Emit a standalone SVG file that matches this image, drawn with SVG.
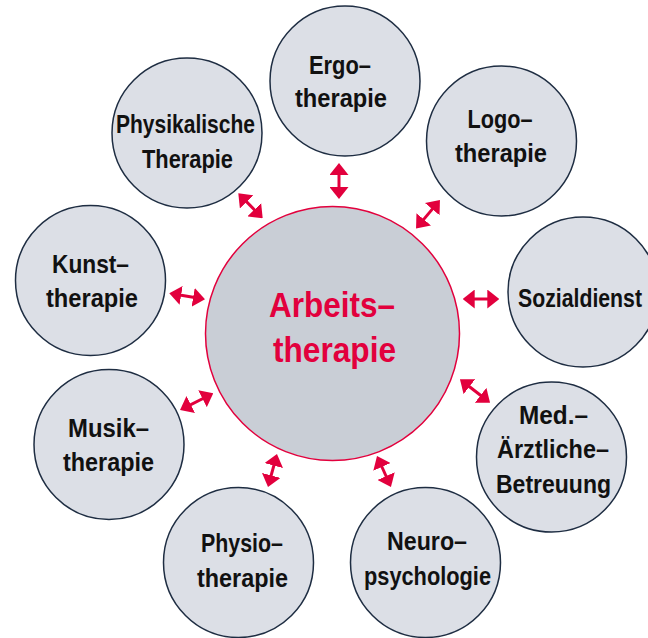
<svg xmlns="http://www.w3.org/2000/svg" width="648" height="638" viewBox="0 0 648 638">
<style>
.node{fill:#DCDFE6;stroke:#1E2D42;stroke-width:1.5}
.hub{fill:#C9CED6;stroke:#E2003D;stroke-width:1.5}
.t{font-family:"Liberation Sans",Arial,sans-serif;font-weight:bold;font-size:25px;fill:#111111;text-anchor:middle}
.ht{font-family:"Liberation Sans",Arial,sans-serif;font-weight:bold;font-size:35px;fill:#E2003D;text-anchor:middle}
.arr{stroke:#E2003D;stroke-width:3;fill:none;marker-start:url(#ah);marker-end:url(#ah)}
</style>
<defs>
<marker id="ah" viewBox="0 0 12 19" markerWidth="12" markerHeight="19" refX="6" refY="9.5" markerUnits="userSpaceOnUse" orient="auto-start-reverse">
<path d="M0,0 L12,9.5 L0,19 z" fill="#E2003D"/>
</marker>
</defs>
<rect width="648" height="638" fill="#FFFFFF"/>
<g id="connectors">
<line class="arr" x1="339" y1="169" x2="339" y2="193"/>
<line class="arr" x1="436.1" y1="204.6" x2="419.9" y2="223.9"/>
<line class="arr" x1="242.5" y1="197.6" x2="258.5" y2="214.0"/>
<line class="arr" x1="175.2" y1="294.3" x2="199.1" y2="298.3"/>
<line class="arr" x1="468.7" y1="299" x2="493.3" y2="299"/>
<line class="arr" x1="185.4" y1="407.3" x2="207.9" y2="396.0"/>
<line class="arr" x1="464.7" y1="383.0" x2="485.3" y2="399.0"/>
<line class="arr" x1="275.4" y1="459.8" x2="269.6" y2="481.2"/>
<line class="arr" x1="379.5" y1="461.5" x2="388.5" y2="481.5"/>
</g>
<g id="arbeitstherapie">
<circle class="hub" cx="332.5" cy="333.5" r="127"/>
<text class="ht" x="332" y="317" textLength="126" lengthAdjust="spacingAndGlyphs">Arbeits–</text>
<text class="ht" x="334.5" y="362" textLength="123" lengthAdjust="spacingAndGlyphs">therapie</text>
</g>
<g id="ergotherapie">
<circle class="node" cx="345" cy="81" r="75"/>
<text class="t" x="340" y="74" textLength="62" lengthAdjust="spacingAndGlyphs">Ergo–</text>
<text class="t" x="341" y="107" textLength="92" lengthAdjust="spacingAndGlyphs">therapie</text>
</g>
<g id="logotherapie">
<circle class="node" cx="501.5" cy="141" r="75"/>
<text class="t" x="500" y="128" textLength="65" lengthAdjust="spacingAndGlyphs">Logo–</text>
<text class="t" x="501" y="162" textLength="92" lengthAdjust="spacingAndGlyphs">therapie</text>
</g>
<g id="physikalische-therapie">
<circle class="node" cx="187" cy="133" r="75"/>
<text class="t" x="185.5" y="133" textLength="139" lengthAdjust="spacingAndGlyphs">Physikalische</text>
<text class="t" x="187.5" y="168" textLength="91" lengthAdjust="spacingAndGlyphs">Therapie</text>
</g>
<g id="kunsttherapie">
<circle class="node" cx="90.5" cy="280.5" r="75"/>
<text class="t" x="90.5" y="273" textLength="77" lengthAdjust="spacingAndGlyphs">Kunst–</text>
<text class="t" x="92" y="307" textLength="92" lengthAdjust="spacingAndGlyphs">therapie</text>
</g>
<g id="sozialdienst">
<circle class="node" cx="583" cy="292" r="75"/>
<text class="t" transform="translate(580,307) scale(0.85,1)" x="0" y="0">Sozialdienst</text>
</g>
<g id="musiktherapie">
<circle class="node" cx="109" cy="444.5" r="75"/>
<text class="t" x="108.5" y="437" textLength="81" lengthAdjust="spacingAndGlyphs">Musik–</text>
<text class="t" x="108.5" y="471" textLength="91" lengthAdjust="spacingAndGlyphs">therapie</text>
</g>
<g id="med-aerztliche-betreuung">
<circle class="node" cx="551.5" cy="457" r="75"/>
<text class="t" x="553.5" y="424" textLength="69" lengthAdjust="spacingAndGlyphs">Med.–</text>
<text class="t" x="553" y="458" textLength="112" lengthAdjust="spacingAndGlyphs">Ärztliche–</text>
<text class="t" x="553.5" y="493" textLength="115" lengthAdjust="spacingAndGlyphs">Betreuung</text>
</g>
<g id="physiotherapie">
<circle class="node" cx="238.5" cy="562.5" r="75"/>
<text class="t" x="242" y="552" textLength="82" lengthAdjust="spacingAndGlyphs">Physio–</text>
<text class="t" x="242.5" y="587" textLength="91" lengthAdjust="spacingAndGlyphs">therapie</text>
</g>
<g id="neuropsychologie">
<circle class="node" cx="425.5" cy="562.5" r="75"/>
<text class="t" x="427" y="550" textLength="80" lengthAdjust="spacingAndGlyphs">Neuro–</text>
<text class="t" x="427.5" y="585" textLength="127" lengthAdjust="spacingAndGlyphs">psychologie</text>
</g>
</svg>
